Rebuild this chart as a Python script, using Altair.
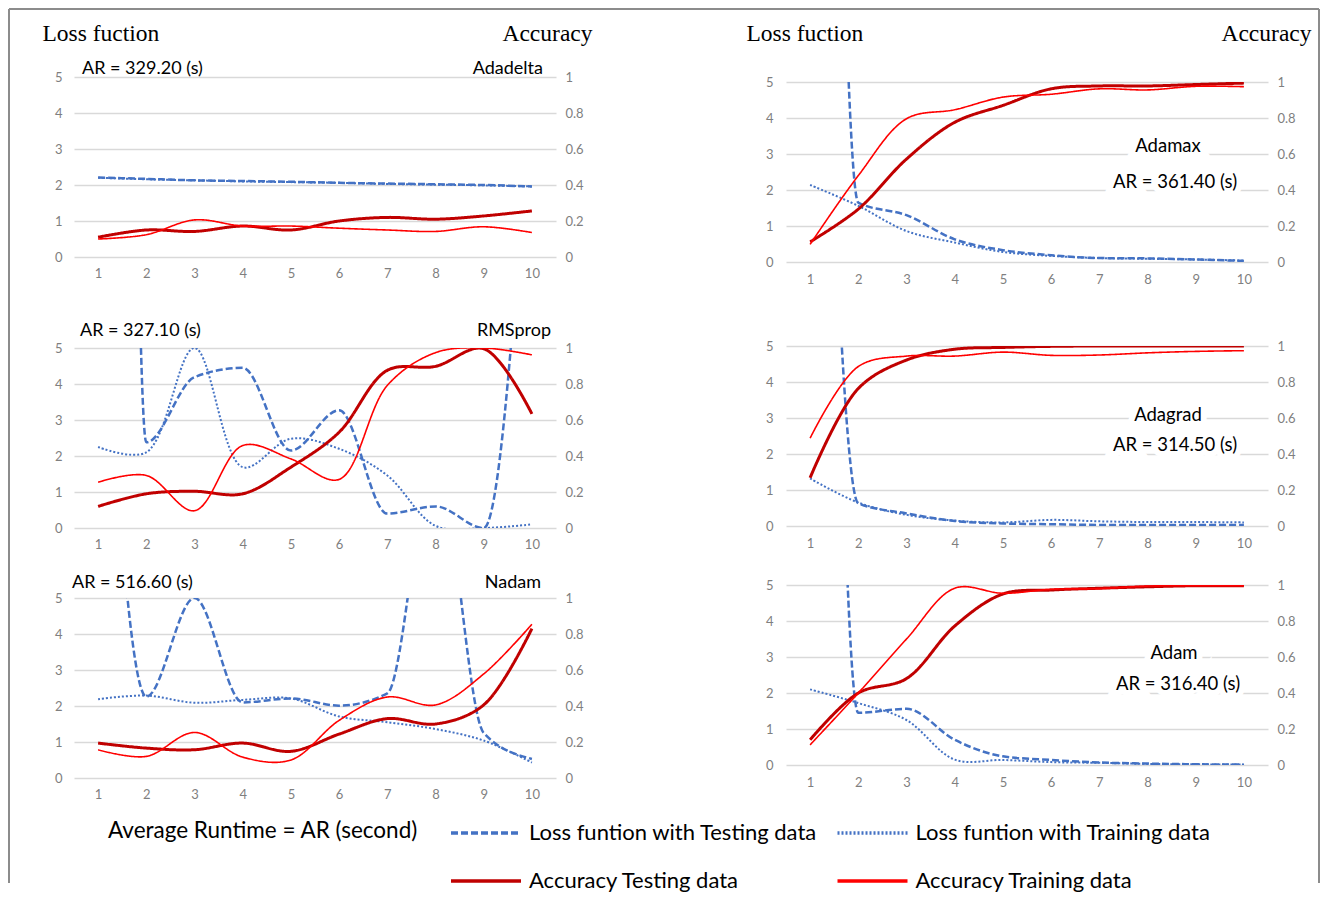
import altair as alt
import pandas as pd

epochs = list(range(1, 11))
SERIES = ["Loss funtion with Testing data", "Loss funtion with Training data",
          "Accuracy Testing data", "Accuracy Training data"]

# ---- data (epoch-1 test losses are off the top of the charts) ----
adadelta_loss_test = [2.21, 2.17, 2.13, 2.11, 2.09, 2.06, 2.04, 2.02, 2.0, 1.96]
adadelta_loss_train = [2.2, 2.16, 2.13, 2.1, 2.08, 2.06, 2.03, 2.01, 1.99, 1.96]
adadelta_acc_test = [0.11, 0.15, 0.142, 0.172, 0.15, 0.2, 0.22, 0.21, 0.228, 0.256]
adadelta_acc_train = [0.10, 0.124, 0.206, 0.172, 0.172, 0.16, 0.15, 0.142, 0.168, 0.136]

rmsprop_loss_test = [150, 2.38, 4.19, 4.45, 2.15, 3.27, 0.4, 0.6, 0.0, 13]
rmsprop_loss_train = [2.25, 2.1, 5.0, 1.69, 2.48, 2.2, 1.46, 0.06, 0.0, 0.1]
rmsprop_acc_test = [0.12, 0.19, 0.204, 0.19, 0.338, 0.532, 0.876, 0.898, 0.996, 0.634]
rmsprop_acc_train = [0.254, 0.292, 0.096, 0.458, 0.384, 0.27, 0.792, 0.974, 1.0, 0.962]

nadam_loss_test = [16, 2.26, 5.0, 2.1, 2.21, 2.01, 2.35, 9, 1.25, 0.53]
nadam_loss_train = [2.19, 2.29, 2.09, 2.17, 2.21, 1.71, 1.55, 1.36, 1.04, 0.43]
nadam_acc_test = [0.194, 0.166, 0.157, 0.194, 0.148, 0.244, 0.33, 0.30, 0.406, 0.83]
nadam_acc_train = [0.157, 0.12, 0.253, 0.116, 0.10, 0.32, 0.45, 0.406, 0.578, 0.854]

adamax_loss_test = [60, 1.65, 1.3, 0.63, 0.33, 0.19, 0.11, 0.10, 0.07, 0.03]
adamax_loss_train = [2.14, 1.56, 0.86, 0.54, 0.28, 0.17, 0.11, 0.09, 0.07, 0.04]
adamax_acc_test = [0.112, 0.294, 0.572, 0.776, 0.87, 0.962, 0.978, 0.978, 0.986, 0.994]
adamax_acc_train = [0.098, 0.48, 0.796, 0.846, 0.916, 0.932, 0.962, 0.956, 0.976, 0.974]

adagrad_loss_test = [28, 0.63, 0.35, 0.14, 0.07, 0.05, 0.03, 0.03, 0.03, 0.03]
adagrad_loss_train = [1.32, 0.65, 0.31, 0.15, 0.10, 0.17, 0.13, 0.11, 0.11, 0.10]
adagrad_acc_test = [0.268, 0.764, 0.922, 0.982, 0.992, 0.998, 1.0, 1.0, 1.0, 1.0]
adagrad_acc_train = [0.488, 0.886, 0.944, 0.944, 0.966, 0.948, 0.95, 0.962, 0.97, 0.974]

adam_loss_test = [54, 1.45, 1.56, 0.70, 0.24, 0.14, 0.07, 0.04, 0.02, 0.01]
adam_loss_train = [2.1, 1.72, 1.25, 0.15, 0.14, 0.08, 0.06, 0.03, 0.02, 0.01]
adam_acc_test = [0.14, 0.40, 0.48, 0.772, 0.95, 0.972, 0.982, 0.99, 0.996, 0.996]
adam_acc_train = [0.112, 0.40, 0.70, 0.982, 0.954, 0.976, 0.98, 0.994, 0.996, 0.996]

ar_texts = {
    "Adadelta": "AR = 329.20 (s)", "RMSprop": "AR = 327.10 (s)", "Nadam": "AR = 516.60 (s)",
    "Adamax": "AR = 361.40 (s)", "Adagrad": "AR = 314.50 (s)", "Adam": "AR = 316.40 (s)",
}
legend_title = "Average Runtime = AR (second)"

LOSS_TICKS = [0, 1, 2, 3, 4, 5]
ACC_TICKS = [0, 0.2, 0.4, 0.6, 0.8, 1]
X_TICKS = epochs

W, H = 482, 180
SANS = "Lato"
SERIF = "Liberation Serif"
TICK_COLOR = "#7F7F7F"
GRID_COLOR = "#D9D9D9"

color_scale = alt.Scale(domain=SERIES, range=["#4472C4", "#4472C4", "#C00000", "#FF0000"])
dash_scale = alt.Scale(domain=SERIES, range=[[7, 3], [2, 2], [1, 0], [1, 0]])

legend = alt.Legend(
    orient="none", legendX=375, legendY=719, columns=2, direction="horizontal",
    symbolType="stroke", symbolSize=4900, symbolStrokeWidth=3.5,
    labelFont=SANS, labelFontSize=22, labelColor="black", labelOffset=6, labelLimit=600,
    title=None, rowPadding=-27, columnPadding=12.5,
)


def make_df(lt, ltr, at, atr):
    rows = []
    for s, vals in zip(SERIES, [lt, ltr, at, atr]):
        for e, v in zip(epochs, vals):
            rows.append({"epoch": e, "series": s, "value": v})
    return pd.DataFrame(rows)


def panel(name, df, side, top=False, frame=False, legend_text=False):
    right = side == "right"
    base = alt.Chart(df)
    x = alt.X("epoch:Q", scale=alt.Scale(domain=[0.5, 10.5], nice=False),
              axis=alt.Axis(values=X_TICKS, format="d", ticks=False, domain=False, grid=False,
                            labelPadding=11 if right else 10, labelFont=SANS, labelFontSize=13,
                            labelColor=TICK_COLOR, title=None))
    left_axis_kw = dict(orient="left", values=LOSS_TICKS, format="d", ticks=False, domain=False,
                        grid=True, gridColor=GRID_COLOR, gridWidth=1.4,
                        labelPadding=13 if right else 12, labelFont=SANS, labelFontSize=13,
                        labelColor=TICK_COLOR)
    right_axis_kw = dict(orient="right", values=ACC_TICKS, format="~g", ticks=False, domain=False,
                         grid=False, labelPadding=9, labelFont=SANS, labelFontSize=13,
                         labelColor=TICK_COLOR)
    if top:
        left_axis_kw.update(title="Loss fuction", titleAngle=0, titleAlign="left",
                            titleBaseline="middle", titleX=-40 if right else -32,
                            titleY=-49 if right else -44, titleFont=SERIF, titleFontSize=23.5,
                            titleFontWeight="normal", titleColor="black")
        right_axis_kw.update(title="Accuracy", titleAngle=0, titleAlign="right",
                             titleBaseline="middle", titleX=43 if right else 36,
                             titleY=-49 if right else -44, titleFont=SERIF, titleFontSize=23.5,
                             titleFontWeight="normal", titleColor="black")
    else:
        left_axis_kw.update(title=None)
        right_axis_kw.update(title=None)

    y_loss = alt.Y("value:Q", scale=alt.Scale(domain=[0, 5], nice=False), axis=alt.Axis(**left_axis_kw))
    y_acc = alt.Y("value:Q", scale=alt.Scale(domain=[0, 1], nice=False), axis=alt.Axis(**right_axis_kw))
    col = alt.Color("series:N", scale=color_scale, legend=legend)
    dash = alt.StrokeDash("series:N", scale=dash_scale, legend=legend)

    loss_test = base.transform_filter(alt.datum.series == SERIES[0]).mark_line(
        interpolate="monotone", clip=True, strokeWidth=2.5).encode(x=x, y=y_loss, color=col, strokeDash=dash)
    loss_train = base.transform_filter(alt.datum.series == SERIES[1]).mark_line(
        interpolate="catmull-rom", clip=True, strokeWidth=2).encode(x=x, y=y_loss, color=col, strokeDash=dash)
    acc_test = base.transform_filter(alt.datum.series == SERIES[2]).mark_line(
        interpolate="catmull-rom", clip=True, strokeWidth=3).encode(x=x, y=y_acc, color=col, strokeDash=dash)
    acc_train = base.transform_filter(alt.datum.series == SERIES[3]).mark_line(
        interpolate="catmull-rom", clip=True, strokeWidth=1.6).encode(x=x, y=y_acc, color=col, strokeDash=dash)

    ann = pd.DataFrame({"name": [name], "ar": [ar_texts[name]], "lg": [legend_title]})
    halos, texts = [], []
    if right:
        pos = {"Adamax": (382, 64, 389, 100), "Adagrad": (382, 69, 389, 99),
               "Adam": (388, 68, 392, 99)}[name]
        for field, px, py in [("name", pos[0], pos[1]), ("ar", pos[2], pos[3])]:
            halos.append(alt.Chart(ann).mark_text(
                font=SANS, fontSize=18.5, align="center", baseline="middle",
                stroke="white", strokeWidth=12, fill="white").encode(
                text=f"{field}:N", x=alt.value(px), y=alt.value(py)))
            texts.append(alt.Chart(ann).mark_text(
                font=SANS, fontSize=18.5, align="center", baseline="middle", color="black").encode(
                text=f"{field}:N", x=alt.value(px), y=alt.value(py)))
    else:
        pos = {"Adadelta": (8, -8, 469), "RMSprop": (6, -17, 477), "Nadam": (-2, -15, 467)}[name]
        texts.append(alt.Chart(ann).mark_text(
            font=SANS, fontSize=18, align="left", baseline="middle", color="black").encode(
            text="ar:N", x=alt.value(pos[0]), y=alt.value(pos[1])))
        texts.append(alt.Chart(ann).mark_text(
            font=SANS, fontSize=18, align="right", baseline="middle", color="black").encode(
            text="name:N", x=alt.value(pos[2]), y=alt.value(pos[1])))
    if legend_text:
        texts.append(alt.Chart(ann).mark_text(
            font=SANS, fontSize=22.5, align="left", baseline="middle", color="black").encode(
            text="lg:N", x=alt.value(34), y=alt.value(233)))

    extra = []
    if frame:
        fr = pd.DataFrame({"k": [0]})
        fcol = "#8C8C8C"
        extra.append(alt.Chart(fr).mark_rule(color=fcol, strokeWidth=2).encode(
            x=alt.value(-65), y=alt.value(-68), y2=alt.value(806)))
        extra.append(alt.Chart(fr).mark_rule(color=fcol, strokeWidth=2).encode(
            x=alt.value(-65), x2=alt.value(1245), y=alt.value(-68)))
        extra.append(alt.Chart(fr).mark_rule(color=fcol, strokeWidth=2).encode(
            x=alt.value(1245), y=alt.value(-68), y2=alt.value(806)))

    ch = alt.layer(alt.layer(loss_test, loss_train), alt.layer(acc_test, acc_train)).resolve_scale(y="independent")
    return alt.layer(ch, *halos, *texts, *extra).properties(width=W, height=H)


def spacer(h):
    return alt.Chart(pd.DataFrame({"k": [0]})).mark_point(opacity=0).encode(
        x=alt.value(0), y=alt.value(0)).properties(width=W, height=h)


p_adadelta = panel("Adadelta", make_df(adadelta_loss_test, adadelta_loss_train, adadelta_acc_test, adadelta_acc_train), "left", top=True, frame=True)
p_rms = panel("RMSprop", make_df(rmsprop_loss_test, rmsprop_loss_train, rmsprop_acc_test, rmsprop_acc_train), "left")
p_nadam = panel("Nadam", make_df(nadam_loss_test, nadam_loss_train, nadam_acc_test, nadam_acc_train), "left", legend_text=True)
p_adamax = panel("Adamax", make_df(adamax_loss_test, adamax_loss_train, adamax_acc_test, adamax_acc_train), "right", top=True)
p_adagrad = panel("Adagrad", make_df(adagrad_loss_test, adagrad_loss_train, adagrad_acc_test, adagrad_acc_train), "right")
p_adam = panel("Adam", make_df(adam_loss_test, adam_loss_train, adam_acc_test, adam_acc_train), "right")

left_col = alt.vconcat(p_adadelta, spacer(91), p_rms, spacer(70), p_nadam, spacing=0, bounds="flush")
right_col = alt.vconcat(spacer(5), p_adamax, spacer(84), p_adagrad, spacer(59), p_adam, spacing=0, bounds="flush")

chart = alt.hconcat(left_col, right_col, spacing=712, bounds="flush").properties(
    padding=0, background="white"
).configure_view(stroke=None)

chart.save("out.html", embed_options={"renderer": "svg", "actions": False})
